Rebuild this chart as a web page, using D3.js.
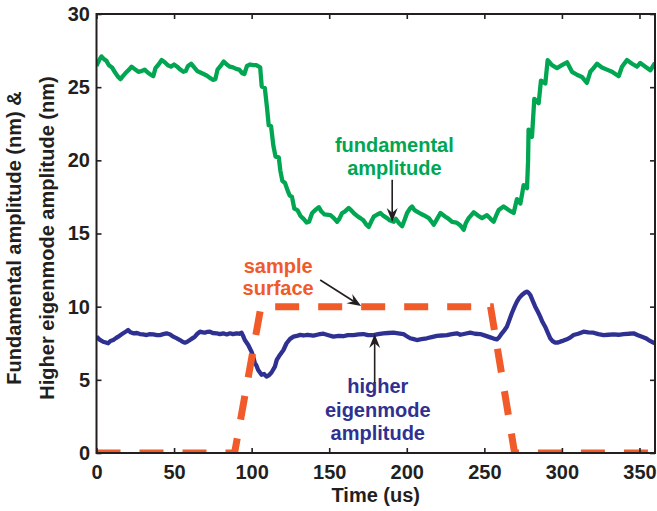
<!DOCTYPE html>
<html><head><meta charset="utf-8">
<script src="https://cdn.jsdelivr.net/npm/d3@7"></script>
<style>
body{margin:0;background:#fff;}
text{font-family:"Liberation Sans",Arial,Helvetica,sans-serif;font-weight:bold;}
</style></head>
<body><svg id="chart" width="657" height="511"></svg>
<script>
// ---- data ----
const xTicks = [0,50,100,150,200,250,300,350];
const yTicks = [0,5,10,15,20,25,30];
const fundT = [0,2,3.2,5,6.4,8,10,12,14,15.5,17,19,21,22.6,25,27,29,31,33,35,36.6,38,40,42,44,46,48,50,52,54,56,57.5,59,61,63,65,67,69,71,73,75,76.6,78,80,82,84,86,88,90,92,94,95.3,97,99,101,103,105.5,106.5,108.5,110,111,112.5,114,115.4,117.5,118.5,119.8,121.5,123,124.5,126,127.5,129.5,131.5,133.5,135.5,137,139,141.5,143.3,145,147,150.8,153,155.1,156.5,158.3,160,162.6,164,165.8,168,170.1,172,174,175.5,177,178.7,181,183,185,187.3,189,191.6,193,195,197,198.5,200.2,202,203.4,205,206.6,209,210.9,214.2,216,217.4,219,221.7,224.9,227,229.2,232,234.6,236.7,238,239.9,243.1,246.3,248.5,251.7,254,256,257.5,259.2,262.4,265.7,268.9,270,271,273.2,274.5,275.3,277.5,278.2,278.5,280.7,282.2,285,286.5,289.3,290.8,293.6,296.8,300,303.3,306.5,309.7,312.9,316.1,318.3,320.4,322.6,325.8,329,332.3,336.6,338.7,341.9,345.2,348.4,350.5,353.8,357,360];
const fundV = [26.45,26.9,27.1,26.9,26.8,26.5,26.35,26.0,25.7,25.55,25.75,26.0,26.2,26.4,26.2,26.05,26.1,26.2,26.0,25.85,25.75,26.3,26.55,26.85,26.7,26.5,26.4,26.55,26.4,26.2,26.05,26.1,26.45,26.6,26.35,26.1,26.0,25.9,25.8,25.65,25.5,25.55,26.2,26.45,26.75,26.55,26.4,26.35,26.25,26.2,25.95,25.9,26.45,26.55,26.5,26.5,26.35,25.05,24.95,23.5,22.4,22.35,21.0,20.25,20.2,19.3,18.6,18.45,18.0,17.6,17.5,16.7,16.6,16.2,16.0,15.75,15.8,16.4,16.65,16.8,16.5,16.3,16.25,16.05,15.8,16.0,16.4,16.5,16.75,16.6,16.4,16.2,16.05,15.9,15.6,15.45,15.8,16.15,16.3,16.4,16.2,16.05,15.9,15.8,16.0,15.7,15.5,15.9,16.4,16.7,16.85,16.6,16.5,16.35,16.25,16.05,15.8,15.6,15.9,16.4,16.15,16.0,15.8,15.75,15.55,15.25,15.7,16.05,16.45,16.2,16.05,16.25,16.0,15.8,16.2,16.6,16.85,16.6,16.4,16.9,17.35,17.05,17.8,18.3,18.1,20.0,22.1,21.6,24.2,23.9,25.45,25.25,26.85,26.5,26.3,26.5,26.7,26.05,25.85,25.7,25.3,26.05,26.3,26.6,26.35,26.2,26.05,25.75,26.4,26.85,26.6,26.4,26.65,26.4,26.15,26.65];
const highT = [0,2,4.3,6,7.5,9,10.8,12.5,14,16,17.2,19,20.4,22,23.7,26,28,30,32.3,34,36.6,39,40.9,43,45.2,47.5,49.5,51.5,53.8,55.5,57,58.5,60.2,62,63.4,65,66.7,68.5,69.9,71.5,73.1,75,77.4,79.5,81.7,84,86,88,90.3,92,93.5,94.5,95.6,97.8,99.9,101,102.1,103,104.2,106.4,108,109.6,111,112.8,115,116.2,118.2,120.5,122.5,124.8,127,129.1,131.2,133.4,136,139.8,143,146.3,149.5,152.7,156,159.1,162,165.6,169,172,175,178.5,181.5,184.9,188,191.4,194.5,197.8,200,202.2,204.5,206.5,209.5,212.9,216,219.4,222.5,225.8,229,232.3,234.5,237.5,240.9,244,247.4,250.5,253.8,256,258.1,259.5,261.3,263,264.5,266,267.7,269.5,271,272.5,274.2,276,277.4,278.5,279.6,281,282.8,284.5,286,287.5,289.2,291,292.5,294,295.7,297.5,298.9,301,303.2,305.5,307.5,310.5,314,317,320.4,323.5,326.9,330,333.3,336.5,339.8,343,346.2,349,351.6,354,355.9,358,360];
const highV = [7.95,7.75,7.6,7.55,7.5,7.65,7.72,7.85,7.95,8.1,8.18,8.3,8.4,8.25,8.18,8.2,8.13,8.1,8.06,8.12,8.1,8.05,8.06,8.12,8.18,8.1,7.95,7.85,7.72,7.6,7.54,7.6,7.72,7.85,7.95,8.15,8.29,8.25,8.22,8.28,8.29,8.2,8.18,8.12,8.18,8.1,8.18,8.12,8.18,8.15,8.22,8.0,7.72,7.38,6.93,6.6,6.13,6.0,5.67,5.35,5.4,5.22,5.3,5.5,5.9,6.36,6.7,7.04,7.5,7.8,7.95,8.0,8.07,8.03,8.08,8.02,8.1,8.15,8.05,7.95,8.0,7.98,8.05,8.06,8.1,8.13,8.05,8.06,8.12,8.18,8.2,8.22,8.18,8.13,7.98,7.84,7.78,7.72,7.78,7.84,7.92,8.0,8.03,8.06,8.12,8.18,8.08,8.15,8.22,8.15,8.13,8.02,7.9,7.82,7.77,7.9,8.18,8.4,8.63,9.05,9.55,10.0,10.34,10.6,10.8,10.95,11.03,10.95,10.8,10.45,10.0,9.65,9.32,8.95,8.63,8.2,7.84,7.65,7.54,7.55,7.61,7.68,7.77,7.9,8.06,8.15,8.29,8.25,8.22,8.12,8.06,8.08,8.1,8.08,8.13,8.15,8.18,8.05,7.95,7.85,7.72,7.6,7.49];
const surfT = [0,89,106,254,269.5,360];
const surfV = [0,0,10,10,0,0];

// ---- layout ----
const W = 657, H = 511;
const m = {left:96.5, top:14, right:2, bottom:58};
const svg = d3.select("#chart");
svg.append("rect").attr("width",W).attr("height",H).attr("fill","#fff");
const x = d3.scaleLinear().domain([0,360]).range([m.left, W-m.right]);
const y = d3.scaleLinear().domain([0,30]).range([H-m.bottom, m.top]);

const ink = "#231f20", green = "#00a651", blue = "#2e3192", orange = "#f15a29";

svg.append("clipPath").attr("id","clip").append("rect")
  .attr("x",x(0)).attr("y",y(30)).attr("width",x(360)-x(0)).attr("height",y(0)-y(30));

const line = d3.line().x(d=>x(d[0])).y(d=>y(d[1]));
const g = svg.append("g").attr("clip-path","url(#clip)");
g.append("path").datum(d3.zip(fundT,fundV)).attr("d",line)
  .attr("fill","none").attr("stroke",green).attr("stroke-width",4.3).attr("stroke-linejoin","round");
g.append("path").datum(d3.zip(highT,highV)).attr("d",line)
  .attr("fill","none").attr("stroke",blue).attr("stroke-width",4.3).attr("stroke-linejoin","round");
g.append("path").datum(d3.zip(surfT,surfV)).attr("d",line)
  .attr("fill","none").attr("stroke",orange).attr("stroke-width",7)
  .attr("stroke-dasharray","24,19");

// ---- axes ----
function styleAxis(sel){
  sel.select(".domain").remove();
  sel.selectAll(".tick line").attr("stroke",ink).attr("stroke-width",1.6);
  sel.selectAll(".tick text").attr("fill",ink).attr("font-size","20px").attr("font-weight","bold")
     .attr("font-family","Liberation Sans, Arial, sans-serif");
}
svg.append("g").attr("transform",`translate(0,${y(0)})`)
  .call(d3.axisBottom(x).tickValues(xTicks).tickSize(-5).tickPadding(12)).call(styleAxis);
svg.append("g").attr("transform",`translate(0,${y(30)})`)
  .call(d3.axisTop(x).tickValues(xTicks).tickSize(-5).tickFormat("")).call(styleAxis);
svg.append("g").attr("transform",`translate(${x(0)},0)`)
  .call(d3.axisLeft(y).tickValues(yTicks).tickSize(-5).tickPadding(6.5)).call(styleAxis);
svg.append("g").attr("transform",`translate(${x(360)},0)`)
  .call(d3.axisRight(y).tickValues(yTicks).tickSize(-5).tickFormat("")).call(styleAxis);
svg.append("rect").attr("x",x(0)).attr("y",y(30)).attr("width",x(360)-x(0)).attr("height",y(0)-y(30))
  .attr("fill","none").attr("stroke",ink).attr("stroke-width",2);

// ---- labels ----
svg.append("text").attr("x",(x(0)+x(360))/2).attr("y",502).attr("text-anchor","middle")
  .attr("font-size","20px").attr("fill",ink).text("Time (us)");
const yl = svg.append("text").attr("transform","translate(0,238) rotate(-90)")
  .attr("text-anchor","middle").attr("font-size","20px").attr("fill",ink);
yl.append("tspan").attr("x",0).attr("y",21).text("Fundamental amplitude (nm) &");
yl.append("tspan").attr("x",0).attr("y",53.5).text("Higher eigenmode amplitude (nm)");

// ---- annotations ----
function label(lines, t, vs, color){
  lines.forEach((s,i)=>svg.append("text").attr("x",x(t)).attr("y",y(vs[i]))
    .attr("text-anchor","middle").attr("font-size","20px").attr("fill",color).text(s));
}
label(["fundamental","amplitude"], 192, [20.57,19.0], green);
label(["sample","surface"], 117.1, [12.3,10.77], orange);
label(["higher","eigenmode","amplitude"], 181.3, [4.08,2.48,0.89], blue);

function arrow(t0,v0,t1,v1){
  const x0=x(t0), y0=y(v0), x1=x(t1), y1=y(v1);
  const ang = Math.atan2(y1-y0, x1-x0)*180/Math.PI;
  const L=14, Wd=5.5;
  const len = Math.hypot(x1-x0,y1-y0);
  svg.append("line").attr("x1",x0).attr("y1",y0).attr("x2",x1-(x1-x0)*8/len).attr("y2",y1-(y1-y0)*8/len)
    .attr("stroke",ink).attr("stroke-width",1.6);
  svg.append("path").attr("d",`M0,0L${-L},${-Wd}L${-L*0.65},0L${-L},${Wd}Z`)
    .attr("transform",`translate(${x1},${y1}) rotate(${ang})`).attr("fill",ink);
}
arrow(190.6,18.67,190.6,15.79);
arrow(144.2,11.82,170.6,10.04);
arrow(179.3,4.79,179.3,8.13);
</script></body></html>
